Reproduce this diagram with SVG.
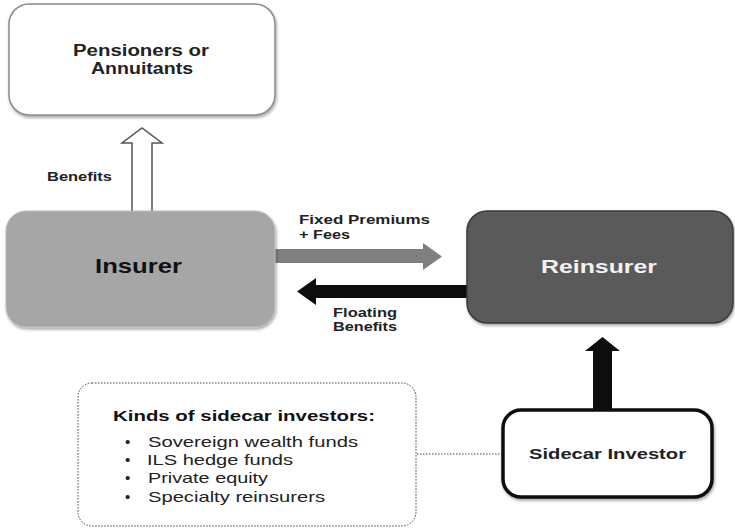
<svg xmlns="http://www.w3.org/2000/svg" width="735" height="529" viewBox="0 0 735 529">
<defs>
<filter id="sh" x="-10%" y="-10%" width="125%" height="130%">
<feDropShadow dx="1" dy="2" stdDeviation="1.5" flood-color="#000" flood-opacity="0.35"/>
</filter>
</defs>
<style>
text{font-family:"Liberation Sans",Arial,sans-serif;}
.b{font-weight:bold;}
.lbl{font-size:13px;font-weight:bold;fill:#222;}
.li{font-size:15px;fill:#222;}
</style>
<rect width="735" height="529" fill="#fff"/>
<g id="connectors">
<path d="M132,211 V143 H122 L142,128 L162,143 H152 V211" fill="#fff" stroke="#555" stroke-width="1.5"/>
<path d="M275,249 H423 V243 L442,256.5 L423,270 V263 H275 Z" fill="#7f7f7f"/>
<path d="M468,285 H316 V278 L297,291.5 L316,305 V298 H468 Z" fill="#0d0d0d"/>
<path d="M593,410 V351 H585 L602.5,337 L620,351 H612 V410 Z" fill="#0d0d0d"/>
<line x1="417" y1="454" x2="502" y2="454" stroke="#444" stroke-width="1" stroke-dasharray="1.5,1.5"/>
</g>
<g id="pensioners">
<rect x="9" y="4" width="266" height="111" rx="20" fill="#fff" stroke="#8a8a8a" stroke-width="1.5" filter="url(#sh)"/>
<text class="b" x="141" y="56" font-size="16" text-anchor="middle" fill="#222" textLength="136" lengthAdjust="spacingAndGlyphs">Pensioners or</text>
<text class="b" x="142" y="74" font-size="16" text-anchor="middle" fill="#222" textLength="102" lengthAdjust="spacingAndGlyphs">Annuitants</text>
</g>
<text class="lbl" x="47" y="181" textLength="65" lengthAdjust="spacingAndGlyphs">Benefits</text>
<g id="insurer">
<rect x="6" y="211" width="269" height="116" rx="20" fill="#a6a6a6" stroke="#bdbdbd" stroke-width="1" filter="url(#sh)"/>
<text class="b" x="95" y="273" font-size="21" fill="#111" textLength="87" lengthAdjust="spacingAndGlyphs">Insurer</text>
</g>
<g id="reinsurer">
<rect x="467" y="211" width="266" height="112" rx="20" fill="#5a5a5a" stroke="#3a3a3a" stroke-width="1.5" filter="url(#sh)"/>
<text class="b" x="541" y="273" font-size="19" fill="#f2f2f2" textLength="116" lengthAdjust="spacingAndGlyphs">Reinsurer</text>
</g>
<text class="lbl" x="299" y="224" textLength="131" lengthAdjust="spacingAndGlyphs">Fixed Premiums</text>
<text class="lbl" x="299" y="239" textLength="51" lengthAdjust="spacingAndGlyphs">+ Fees</text>
<text class="lbl" x="333" y="317" font-size="12" textLength="64" lengthAdjust="spacingAndGlyphs">Floating</text>
<text class="lbl" x="333" y="331" font-size="12" textLength="64" lengthAdjust="spacingAndGlyphs">Benefits</text>
<g id="kinds">
<rect x="78" y="383" width="338" height="143" rx="14" fill="#fff" stroke="#444" stroke-width="1" stroke-dasharray="1.5,1.5"/>
<text class="b" x="113" y="421" font-size="15" fill="#111" textLength="262" lengthAdjust="spacingAndGlyphs">Kinds of sidecar investors:</text>
<text class="li" x="125" y="447">•</text>
<text class="li" x="148" y="447" textLength="210" lengthAdjust="spacingAndGlyphs">Sovereign wealth funds</text>
<text class="li" x="125" y="465">•</text>
<text class="li" x="147" y="465" textLength="146" lengthAdjust="spacingAndGlyphs">ILS hedge funds</text>
<text class="li" x="125" y="483">•</text>
<text class="li" x="148" y="483" textLength="120" lengthAdjust="spacingAndGlyphs">Private equity</text>
<text class="li" x="125" y="502">•</text>
<text class="li" x="148" y="502" textLength="177" lengthAdjust="spacingAndGlyphs">Specialty reinsurers</text>
</g>
<g id="sidecar">
<rect x="503" y="410" width="209" height="87" rx="18" fill="#fff" stroke="#0d0d0d" stroke-width="3.5" filter="url(#sh)"/>
<text class="b" x="529" y="459" font-size="15" fill="#222" textLength="157" lengthAdjust="spacingAndGlyphs">Sidecar Investor</text>
</g>
</svg>
